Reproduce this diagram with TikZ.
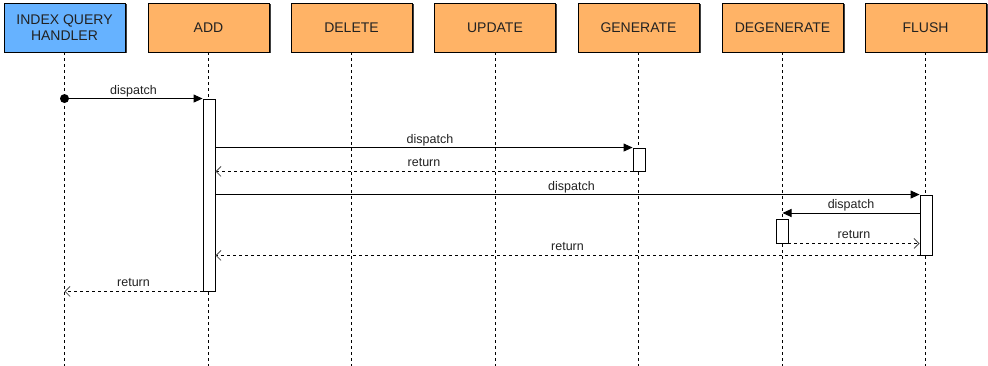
\documentclass[tikz,border=0pt]{standalone}
\usepackage{fontspec}
\setmainfont{Liberation Sans}
\usetikzlibrary{arrows.meta,calc}
\definecolor{hblue}{HTML}{66B2FF}
\definecolor{horange}{HTML}{FFB366}
\definecolor{txt}{HTML}{222222}
\begin{document}
\begin{tikzpicture}[x=1pt,y=-1pt,
  hdr/.style={draw=black, line width=0.9pt, minimum width=121pt, minimum height=49pt, align=center, inner sep=0pt,
     font=\fontsize{14}{15.5}\selectfont, text=txt},
  life/.style={line width=0.9pt, dash pattern=on 3pt off 3pt},
  act/.style={draw=black, line width=0.9pt, fill=white, minimum width=12pt, inner sep=0pt},
  msg/.style={line width=0.9pt, -{Triangle[length=9pt,width=8pt]}},
  ret/.style={line width=0.9pt, dash pattern=on 3pt off 3pt, -{Straight Barb[length=5pt,width=10pt,line width=0.8pt,color=black!70]}},
  lbl/.style={above, inner sep=1.5pt, text height=9pt, text depth=2.5pt, font=\fontsize{12.5}{13}\selectfont, text=txt}]
\useasboundingbox[fill=white] (0,0) rectangle (988,366);
% shadows of headers
\foreach \cx in {64.5,208.5,351.5,495,638.5,782.5,925.5}
  \fill[black!75] (\cx-60.5+1.5,3+1.5) rectangle (\cx+60.5+1.5,52+1.5);
\node[hdr, fill=hblue] (iqh) at (64.5,27.5) {INDEX QUERY\\HANDLER};
\node[hdr, fill=horange] (add) at (208.5,27.5) {ADD};
\node[hdr, fill=horange] (del) at (351.5,27.5) {DELETE};
\node[hdr, fill=horange] (upd) at (495,27.5) {UPDATE};
\node[hdr, fill=horange] (gen) at (638.5,27.5) {GENERATE};
\node[hdr, fill=horange] (deg) at (782.5,27.5) {DEGENERATE};
\node[hdr, fill=horange] (flu) at (925.5,27.5) {FLUSH};
% lifelines
\foreach \n in {iqh,add,del,upd,gen,deg,flu}
  \draw[life] (\n.south) -- (\n.south |- 0,366);
% activations
\node[act, minimum height=192pt] (a1) at (209,195) {};
\node[act, minimum height=23pt] (g1) at (639,159.5) {};
\node[act, minimum height=60pt] (f1) at (926,225) {};
\node[act, minimum height=24pt] (d1) at (782,231) {};
% messages
\fill (iqh.south |- a1.north) circle (4.5pt) coordinate (s0);
\draw[msg] (s0) -- node[lbl] {dispatch} (a1.north west);
\draw[msg] (a1.east |- g1.north) -- node[lbl, xshift=6pt] {dispatch} (g1.north west);
\draw[ret] (g1.south west) -- node[lbl] {return} (a1.east |- g1.south);
\draw[msg] (a1.east |- f1.north) -- node[lbl, xshift=4pt] {dispatch} (f1.north west);
\coordinate (fd) at ($(f1.west)+(0,-12)$);
\draw[msg] (fd) -- node[lbl] {dispatch} (deg.south |- fd);
\draw[ret] (d1.south east) -- node[lbl] {return} (f1.west |- d1.south);
\draw[ret] (f1.south west) -- node[lbl] {return} (a1.east |- f1.south);
\draw[ret] (a1.south west) -- node[lbl] {return} (iqh.south |- a1.south);
\end{tikzpicture}
\end{document}
